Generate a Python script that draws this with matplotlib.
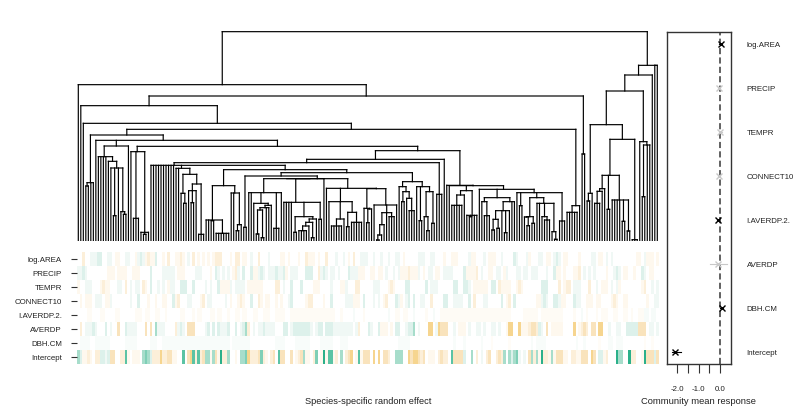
import matplotlib
matplotlib.use("Agg")
import matplotlib.pyplot as plt
import numpy as np
from matplotlib.collections import LineCollection
from matplotlib.colors import LinearSegmentedColormap, Normalize

plt.rcParams['font.family'] = ['Liberation Sans', 'DejaVu Sans']

covariates = ['log.AREA', 'PRECIP', 'TEMPR', 'CONNECT10', 'I.AVERDP.2.', 'AVERDP', 'DBH.CM', 'Intercept']

# community mean response, same order as covariates
mean_est = [0.03, -0.06, 0.02, -0.06, -0.10, -0.08, 0.08, -2.09]
mean_low = [-0.05, -0.11, -0.03, -0.11, -0.15, -0.47, 0.02, -2.26]
mean_high = [0.10, -0.01, 0.07, -0.01, -0.05, 0.31, 0.13, -1.83]
mean_signif = [True, False, False, False, True, False, True, True]
response_ticks = [-2.0, -1.5, -1.0, -0.5, 0.0]
response_labels = ['-2.0', '', '-1.0', '', '0.0']

# species effects by row, one value per species in tree order (-4 to 6 classes)
log_area = [
    0, 0, -2, 0, 0, 1, 1, 1, 2, 2, 0, 0, 1, 1, 0, -1, -1, 0, 0, 1,
    1, 0, 0, -1, 1, 2, 1, -1, -2, -1, -1, 2, 0, 0, -1, 0, -2, 0, 0, -1,
    -1, -2, -1, 0, 1, 0, -2, 0, -1, 0, -1, 0, -1, 0, -1, -2, -2, -2, 0, 0,
    0, -1, 0, -2, -2, 0, -1, -1, 0, 1, 0, 0, -2, 0, 0, 0, 1, 0, 0, 0,
    0, -1, -1, 0, -1, 0, 0, 0, -1, 0, 0, -2, -1, -1, -1, 0, -1, 0, 0, -2,
    0, 0, 0, 1, 0, 0, 1, 0, -1, 0, -2, 0, 0, 1, 1, 1, 0, 0, 1, 0,
    0, 1, 0, 0, 1, 0, 0, 1, 1, 0, -1, 0, 0, 0, 0, 0, 1, 1, 1, 0,
    0, 1, 1, 0, 0, 0, -1, 0, 0, -1, -1, -1, 0, 0, 0, 0, 1, -1, -1, 0,
    0, 0, 1, 0, -1, -1, -1, 0, 0, 1, 0, 0, 0, 0, 2, 1, 0, 0, 0, 1,
    -1, 0, 0, 0, 1, 1, 0, -1, -1, 0, 1, 2, 1, 0, -1, -1, 0, 0, 0, 0,
    -1, 0, 0, 0, 0, 1, 1, 0, -1, -1, 0, 1, 0, 1, 0, 0, 0, 0, 0, 0,
    0, 0, 0, -1, -1, 0, 1, -1, -1, -1, 0, -1]
precip = [
    1, 1, 2, 1, 0, 0, 0, 0, 0, 0, 0, 0, -1, -1, -1, 0, -1, -1, -1, -1,
    0, 0, -1, -1, -1, 0, 0, 0, 0, 2, 0, 0, 0, 0, 1, 1, 1, 1, 1, 0,
    -1, -1, -1, 0, 0, 0, 0, 1, 1, 1, 0, 0, 0, -1, 0, 2, 1, 0, 1, 0,
    1, 0, -1, -2, 1, 0, 2, 0, 0, 2, -1, -1, 1, 2, 1, 0, 1, 1, 1, 2,
    1, 1, 2, -1, 0, 1, 1, 1, 0, 0, 0, 2, 2, 2, 0, 0, -2, 1, 2, 1,
    0, 1, 1, 0, 1, 0, 0, 0, 2, 1, 1, 1, -1, -1, -1, 0, 0, -1, -1, 0,
    -1, -1, 0, 1, 0, 0, 1, 0, 1, -1, -1, -1, -2, -1, -1, -1, 1, 0, -1, 0,
    1, 1, 0, -1, -1, 0, 1, 1, 1, 1, 0, 0, 0, 0, 2, -1, -1, -1, -1, -2,
    0, 1, 0, 0, -1, -1, 0, 1, 1, 0, -1, 1, 0, 0, 0, 1, 1, 0, 1, 1,
    0, 1, 1, 1, 0, 0, 0, 1, 0, 0, 2, -1, -1, 0, -1, 0, 0, 0, -1, -1,
    -2, 0, 1, 0, 1, 0, 1, 0, 0, 0, 0, -1, 0, 0, 1, 2, 1, 0, -1, -1,
    0, 0, -1, 0, 0, 2, 1, 0, -1, -1, 0, 0]
tempr = [
    -1, 0, 0, 1, 1, 1, 0, 0, 0, -1, -2, -1, -1, 0, 0, 0, 1, 1, 0, -2,
    0, 1, 0, 1, 1, 0, -2, -1, 0, 2, 0, 0, 1, 0, 1, 0, -1, 1, 1, 0,
    0, 2, 2, 2, 0, 0, 2, 0, 0, 0, 0, 1, 0, 1, 0, 0, 2, -1, -1, -1,
    -1, 1, 0, 1, 1, 1, 1, 0, -1, -1, -1, -1, -1, -1, 0, 0, 0, 0, 0, -2,
    -2, 0, 1, 0, 0, 2, 0, 0, 0, 2, 0, 0, 0, 0, -1, -1, -1, 0, 0, 0,
    0, 1, 0, 0, 0, -1, -1, 1, 0, 0, 0, -2, -2, 0, 0, 0, 0, 0, 1, 1,
    1, 0, 0, 0, -1, -2, -1, 0, 0, 0, 0, 2, 2, 0, 0, 0, 0, 0, 0, 2,
    0, 1, 1, 1, 0, 0, 0, 0, 0, 0, 2, 2, 0, 0, 2, 2, 1, 0, -1, -1,
    -1, -1, -1, -1, 0, 2, 2, 0, -2, -1, -1, -1, -1, 0, 0, -1, -2, -1, 0, 0,
    0, 0, 0, 0, 0, 2, 2, 2, 0, 0, 0, 0, -2, 0, -1, -2, -2, 0, 1, 1,
    1, 0, 0, 0, -2, 0, 0, 1, 0, -1, -1, -1, 0, 1, 0, 1, -1, 0, 0, 0,
    0, 0, 0, 0, 0, -1, -2, 0, 0, 1, 0, 1]
connect10 = [
    0, -1, 0, -1, -1, -1, 0, 1, 1, 1, 0, -1, -1, 1, 0, 0, 0, 0, 0, 0,
    0, 1, 0, 0, 2, 0, 0, 0, -1, 0, 0, -1, 0, 0, -1, -1, 0, 0, 2, -1,
    -2, 0, 0, 0, 1, 1, 0, 0, 0, -1, -2, 0, 1, 1, 0, 0, 0, 0, 0, 1,
    0, -1, 0, 0, -1, -2, -1, 0, 0, 2, 0, 0, -2, -1, 0, -1, -1, 0, 0, -1,
    0, -1, 0, 0, 1, 2, 0, 0, 0, 0, 0, -1, -2, -2, 0, 0, 0, 0, -1, 0,
    0, 2, 0, 0, 0, 0, 0, 1, 1, 1, -1, -1, -1, 0, 2, 0, 0, 0, 1, 0,
    1, 0, -1, -2, 0, 0, 0, 2, 1, -1, 0, 1, 2, 0, 2, 0, 0, 1, 1, 0,
    0, -2, 0, 0, 0, 0, 2, 2, 0, 0, 1, 1, 1, 1, 0, 0, 2, 0, -2, 0,
    0, 0, 1, 1, 0, 0, 0, 0, 0, 2, 0, -1, -2, 0, 2, 0, 0, 0, 0, 0,
    0, 0, 0, -1, -1, 1, 2, 1, 0, 0, 2, 2, 1, -1, -1, 0, 0, 0, 2, 1,
    1, 0, 0, -1, -1, -1, 0, -1, -1, 0, 0, 0, 0, -1, -2, -1, 0, 0, -1, -1,
    0, 0, 0, 0, 0, 0, 0, -1, 0, 0, 1, 1]
l_averdp = [
    0, 0, 0, 0, -1, -1, 0, 0, 0, -1, -1, 0, 0, 0, 0, -1, -1, 0, 0, 0,
    0, 0, 0, -1, -1, -1, 0, -1, -1, 0, 0, -1, -1, 0, 0, -1, 0, 0, 0, 0,
    0, -1, -1, 0, 0, 0, -1, 0, -1, -1, 0, 0, 0, -1, -1, 0, -1, -1, 0, 0,
    -1, 0, 0, -1, -1, 0, -1, -1, 0, 0, -1, -1, 0, 0, -1, -1, -1, 0, 0, -1,
    -1, -1, -1, 0, 0, -1, -1, -1, -1, -1, -1, -1, -1, -1, -1, -1, -1, -1, -1, -1,
    -1, -1, -1, 0, 0, -1, 0, 0, 0, 0, 1, 0, 0, 0, -1, 0, 0, 0, 0, 0,
    0, 0, 0, 0, 1, 0, 0, -1, -1, 0, -1, -1, 0, 0, 1, 0, 0, 0, 0, -1,
    0, 0, 1, 0, 0, -1, -1, -1, -1, -1, -1, -1, -1, -1, -1, -1, -1, -1, -1, -1,
    -1, -1, -1, -1, -1, -1, -1, -1, -1, -1, -1, -1, -1, 0, 0, 0, 0, 0, -1, -1,
    -1, -1, -1, -1, 0, -1, -1, -1, -1, -1, -1, -1, -1, -1, 0, 0, 0, 0, -1, 0,
    0, 1, 0, -1, 0, 0, 0, -1, 0, -1, -1, -1, 0, 0, -1, -1, 0, 0, -1, -1,
    0, -1, 0, 0, -1, -1, 1, 1, 0, 1, 1, 0]
averdp = [
    0, -2, 0, 1, 1, 1, 2, 1, 0, 0, 0, 2, 0, 1, 0, 0, -3, 0, 0, 2,
    1, 1, 1, 1, 0, 0, 0, -3, 0, -3, 0, 3, 1, 1, 1, 0, 0, 0, 0, -2,
    1, 2, 1, 0, -3, -3, -3, 0, 0, 0, 0, 1, 2, 0, 2, 0, 2, 1, 1, 1,
    2, 0, 0, 2, 0, 1, 2, 3, -2, 0, 1, 0, 1, 1, 2, 1, 1, 1, 1, 0,
    0, 0, 2, 2, 0, 1, 2, 2, 2, 2, 2, 2, 2, 1, 0, 1, 2, 2, 0, 2,
    2, 2, 1, 1, 1, 1, 1, 1, 1, 1, 0, 1, -2, 0, 0, 0, 2, 1, 0, 0,
    2, -1, -1, -1, 0, -1, 0, 2, 2, 0, 0, 1, 2, 2, 3, 0, 1, 0, 0, 0,
    -4, -4, 0, 1, -4, -3, -3, -3, 0, 0, 1, 0, -1, -1, -1, 0, 1, 0, 0, 1,
    1, 0, 1, 0, 0, 1, 1, 0, 1, 0, 0, -1, -4, -4, 0, 0, -4, -1, -1, -1,
    -2, -3, -3, -2, 2, 1, 0, -3, 0, -1, -1, -1, -1, -1, 0, 0, 0, 0, -4, 0,
    -1, -2, -3, -2, 0, -3, -3, 0, -4, -4, 0, 0, 1, 0, 0, 1, 1, 0, 0, 2,
    2, 2, 2, 2, -3, -3, -3, 0, 1, 1, 0, 1]
dbh_cm = [
    0, 1, 1, 1, 1, 0, 0, 1, 1, 1, 1, 1, 1, 0, 0, 0, 0, 0, 0, 1,
    1, 1, 1, 1, 0, 0, 0, 0, 0, 1, 1, 1, 0, 0, 1, 1, 1, 1, 1, 1,
    1, 1, 1, 1, 1, 1, 1, 1, 1, 1, 1, 1, 1, 1, 1, 1, 1, 1, 1, 1,
    1, 0, 1, 1, 1, 1, 1, 1, 1, 0, 0, 0, 0, 0, 0, 0, 0, 0, 0, 1,
    1, 1, 1, 0, 0, 0, 0, 1, 1, 1, 1, 1, 1, 0, 0, 0, 0, 1, 1, 1,
    1, 1, 0, 0, 0, 1, 1, 1, 0, 0, 0, 0, 0, 0, 0, 0, 0, 0, 0, 0,
    0, 0, 0, 0, 0, 0, 0, 0, 1, 1, 1, 1, 1, 0, 0, 0, 0, 0, 0, 0,
    0, 0, 0, 0, 0, 0, 0, 0, 0, 0, 1, 0, 0, 0, 1, 0, 0, 0, 0, 0,
    0, 1, 0, 0, 0, -1, 0, 0, 0, 0, 0, 0, -1, 0, 0, 0, 0, 0, 0, 0,
    0, 1, 0, 1, 1, 1, 1, 0, 0, 0, 0, 0, 0, 0, 0, 0, 0, 0, 0, 1,
    0, 0, 1, 0, 0, 0, 0, 0, -1, 0, 0, 0, 1, 1, 0, 1, 1, 1, 0, 0,
    0, 0, 0, 0, 0, 0, -1, 0, 0, -1, 0, 0]
intercept = [
    3, 2, -1, -1, -2, -1, 0, -2, -2, 2, 2, 1, 2, -3, -3, 0, 0, -2, -2, 5,
    -1, 0, -1, -1, -1, 0, 3, 4, 3, 2, -2, -2, -2, -4, -2, -2, -3, -3, -1, -1,
    0, 0, 5, 0, -3, -4, 5, -2, 5, -2, -3, 3, 3, -1, 3, -3, -1, 6, -2, -2,
    3, 0, 0, -1, 0, 3, 3, 4, -4, -2, -2, -2, -3, 4, -2, -1, 0, -2, -3, 0,
    5, -3, -3, 0, 0, -3, 0, -1, -2, -3, 3, -1, -1, 0, -2, 4, 0, -1, 6, -1,
    5, 5, -1, -2, 0, 3, 0, -2, -3, -4, 0, -1, 5, -1, -3, -3, -3, 0, -4, 0,
    -4, 0, -3, -3, -2, 0, 0, 3, 3, 3, 0, 0, -4, -3, -4, -4, -3, -2, -3, 0,
    -1, -1, -1, 0, -2, -3, -2, -2, 0, 5, -3, -3, -3, -3, 2, 0, 0, 3, 0, -2,
    0, 1, 0, -2, -3, 0, 0, -2, -3, -2, 3, 0, 3, 2, 3, 4, 1, 0, 1, 0,
    -3, 3, -2, 3, -1, 6, -2, -2, -1, 3, -1, -3, -3, -3, -1, -1, 0, -2, -2, -1,
    -1, -3, -3, -3, 0, -4, -3, 0, 2, 2, -1, -2, 0, 0, 0, 6, 3, 3, 0, 0,
    6, -2, -2, 0, 0, -1, 6, -3, -3, -3, 2, -3]
# the two faint rows are on a narrower range than the others
row_scale = [1, 1, 1, 1, 0.6, 1, 0.5, 1]

# phylogeny as [node height, child, child, ...], an int child is that many tips
clade_39 = [218, 2, [200, [143, 1, [113, 2]], [171, [151, 1, [115, 2], 1], [20, 3]]]]
clade_51 = [166, [63, 2, [61, 2], [23, 6]], [144, 2, [49, [31, 2], 1]]]
clade_68 = [145, 2, [113, 1, [107, [100, [93, [21, 2], [10, 2]], 2], 1]], [38, 3], 1]
clade_82 = [116, 4, [73, [26, 2], [66, [56, [45, [31, 4], 1], [10, 2]], 1]], [65, 2]]
clade_99 = [158, 1, [118, 1, [66, [45, 5], 1], [86, [43, 2], [56, 5]]],
            [157, [98, 1, [96, [55, 2], 1]],
             [108, 1, [85, [49, [18, [3, 2], 1], 1], 1, [73, 3]], 1]]]
clade_128 = [178, [163, 1, [148, [118, 2], [128, 1, [91, 3]]]],
             [163, 1, [61, 2], [148, [73, 1, [31, 2]], [53, 2]]]]
clade_66 = [205, [195, [41, 2], [187, [187, clade_68, [187, clade_82, 1]], clade_99]], clade_128]
clade_29 = [227, 10, clade_39, [214, clade_51, clade_66]]
clade_147 = [167, 1, [166, 1,
                      [151, [138, [107, 5], 1], [77, 1, [73, 2], 2]],
                      [155, 1,
                       [130, [118, 1, [76, 3]], [118, [91, [65, [33, 2], [38, 2]], 1, [25, 2], 1], 2]],
                       [145, 1, [106, 2],
                        [130, [73, [72, 1, [46, 2]], [53, 2]],
                         [113, 2, [73, 1, [63, 3]], [28, 1, [5, 2]]]],
                        [60, 3]]]]]
clade_21 = [284, [268, 1, [68, 3], [26, 1, [20, 2], 1]],
            [271, [245, [235, clade_29, [140, 3]], 1], clade_147]]
clade_8 = [285, [253, 4, [239, 1, [219, 1, [76, 2], 1, [88, 1, [80, 2]]]]], 1]
clade_3 = [318, [175, [165, 2], 2], [302, 1, clade_8, clade_21]]
left_tree = [469, 1, [435, [406, 1, [353, 1, [335, clade_3, [106, [86, 5], 1]]]], [261, 2]]]
right_tree = [527,
              [498,
               [450,
                [349, [143, [120, 2], 1],
                 [305, [197, [157, [149, [113, 3], 1], 1], [95, 2], [123, 4, [59, 2], [30, 2]]], [4, 3]]],
                [298, 1, [288, [133, 2], 2]]],
               1],
              [527, 2]]
tree = [628, left_tree, right_tree]
tree_top = 663

W, H = 800, 412
TEXT = '#222222'


def axes_px(fig, left, top, right, bottom):
    return fig.add_axes([left / W, 1 - bottom / H, (right - left) / W, (bottom - top) / H])


def walk_tree(node, segments, next_tip=0):
    """Collect the tree segments, returns x of the node and the next free tip."""
    height = node[0]
    xs = []
    for child in node[1:]:
        if isinstance(child, int):
            for _ in range(child):
                segments.append([(next_tip, 0), (next_tip, height)])
                xs.append(next_tip)
                next_tip += 1
        else:
            x, next_tip = walk_tree(child, segments, next_tip)
            segments.append([(x, child[0]), (x, height)])
            xs.append(x)
    segments.append([(min(xs), height), (max(xs), height)])
    return sum(xs) / len(xs), next_tip


def draw_tree(ax):
    segments = []
    _, n_tips = walk_tree(tree, segments)
    lines = LineCollection(segments, colors='black', linewidths=0.85, capstyle='projecting')
    lines.set_snap(False)
    ax.add_collection(lines)
    ax.set_xlim(-0.5, n_tips - 0.5)
    ax.set_ylim(0, tree_top)
    ax.axis('off')
    return n_tips


def draw_heat(ax, n_tips):
    rows = [log_area, precip, tempr, connect10, l_averdp, averdp, dbh_cm, intercept]
    for name, row in zip(covariates, rows):
        assert len(row) == n_tips, (name, len(row))
    values = np.array(rows, dtype=float) * np.array(row_scale)[:, None]

    stops = [(0.0, '#F0C060'), (2 / 12, '#F6D590'), (3 / 12, '#F9E3BC'), (4 / 12, '#FCEFD9'), (5 / 12, '#FEF8EE'),
             (0.5, '#FFFFFF'), (7 / 12, '#F0F8F5'), (8 / 12, '#DDF1EB'), (9 / 12, '#A8DDCC'), (10 / 12, '#80CFB7'),
             (11 / 12, '#5CC3A4'), (1.0, '#2BB08A')]
    cmap = LinearSegmentedColormap.from_list('effect', stops)
    ax.pcolormesh(np.arange(n_tips + 1) - 0.5, np.arange(len(rows) + 1) - 0.5, values,
                  cmap=cmap, norm=Normalize(-6, 6), antialiased=False, linewidth=0)
    ax.set_ylim(len(rows) - 0.5, -0.5)
    ax.set_xticks([])
    ax.set_yticks(range(len(rows)))
    ax.set_yticklabels(covariates, fontsize=5.7, color=TEXT)
    ax.tick_params(axis='y', length=4.3, width=0.8, color='#333333', pad=6.5)
    for spine in ax.spines.values():
        spine.set_visible(False)


def draw_means(ax):
    y = np.arange(len(covariates))
    ax.axvline(0, color='#555555', lw=1.3, dashes=(3.4, 1.8), zorder=1)
    for i, signif in enumerate(mean_signif):
        color = 'black' if signif else '#c8c8c8'
        ax.plot([mean_low[i], mean_high[i]], [y[i], y[i]], color=color, lw=0.8, zorder=2)
        ax.plot(mean_est[i], y[i], 'x', color=color, ms=5, mew=1.0, zorder=3)
    ax.set_xlim(-2.5, 0.5)
    ax.set_ylim(7.273, -0.287)
    ax.set_xticks(response_ticks)
    ax.set_xticklabels(response_labels, fontsize=5.7, color=TEXT)
    ax.yaxis.tick_right()
    ax.set_yticks(y)
    ax.set_yticklabels(covariates, fontsize=5.7, color=TEXT)
    ax.tick_params(axis='y', length=0, pad=11.5)
    ax.tick_params(axis='x', length=6.2, width=0.8, color='#333333', pad=9.5)
    for spine in ax.spines.values():
        spine.set_color('#333333')
        spine.set_linewidth(1.0)


def main():
    fig = plt.figure(figsize=(W / 100, H / 100), dpi=100)

    n_tips = draw_tree(axes_px(fig, 77.05, 20, 658.55, 241))
    draw_heat(axes_px(fig, 77.05, 252, 658.55, 364), n_tips)
    draw_means(axes_px(fig, 666.7, 31.7, 730.7, 364))

    fig.text(368 / W, 1 - 401 / H, 'Species-specific random effect', fontsize=6.7, color=TEXT, ha='center', va='center')
    fig.text(698.5 / W, 1 - 401 / H, 'Community mean response', fontsize=6.75, color=TEXT, ha='center', va='center')

    fig.savefig('out.png', dpi=100)


if __name__ == "__main__":
    main()
